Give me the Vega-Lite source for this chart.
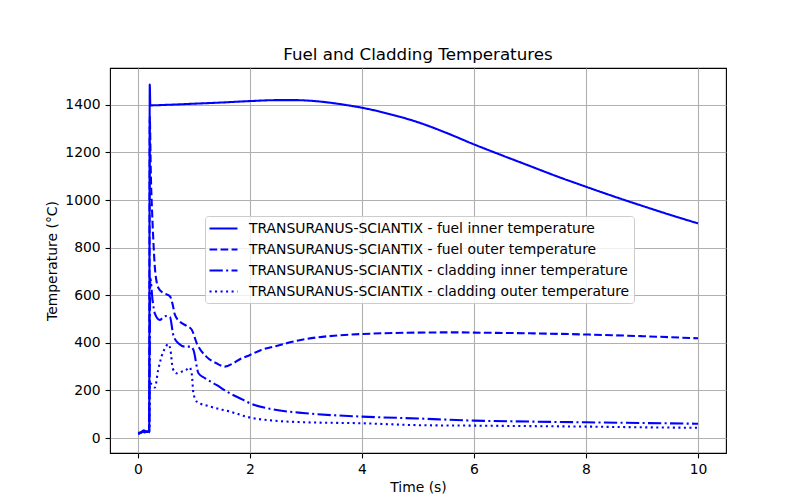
{
  "$schema": "https://vega.github.io/schema/vega-lite/v6.json",
  "width": 616,
  "height": 385,
  "autosize": {"type": "none"},
  "padding": {"left": 110, "top": 68, "right": 66, "bottom": 44},
  "background": "white",
  "config": {
    "font": "DejaVu Sans",
    "view": {"stroke": "black", "strokeWidth": 1.1},
    "axis": {
      "domain": false,
      "grid": true,
      "gridColor": "#b0b0b0",
      "gridWidth": 1.1,
      "tickColor": "black",
      "tickWidth": 1.1,
      "tickSize": 4.9,
      "labelPadding": 4.9,
      "labelFontSize": 13.9,
      "labelColor": "black",
      "labelFont": "DejaVu Sans",
      "titleFontSize": 13.9,
      "titleFontWeight": "normal",
      "titleColor": "black",
      "titleFont": "DejaVu Sans"
    }
  },
  "title": {
    "text": "Fuel and Cladding Temperatures",
    "fontSize": 16.7,
    "fontWeight": "normal",
    "color": "black",
    "font": "DejaVu Sans",
    "anchor": "middle",
    "offset": 4
  },
  "data": {
    "values": [
      {"t": 0, "T": 22, "series": "TRANSURANUS-SCIANTIX - fuel inner temperature"},
      {"t": 0.05, "T": 24, "series": "TRANSURANUS-SCIANTIX - fuel inner temperature"},
      {"t": 0.1, "T": 32, "series": "TRANSURANUS-SCIANTIX - fuel inner temperature"},
      {"t": 0.15, "T": 28, "series": "TRANSURANUS-SCIANTIX - fuel inner temperature"},
      {"t": 0.2, "T": 30, "series": "TRANSURANUS-SCIANTIX - fuel inner temperature"},
      {"t": 0.21, "T": 1485, "series": "TRANSURANUS-SCIANTIX - fuel inner temperature"},
      {"t": 0.22, "T": 1398, "series": "TRANSURANUS-SCIANTIX - fuel inner temperature"},
      {"t": 0.5, "T": 1400, "series": "TRANSURANUS-SCIANTIX - fuel inner temperature"},
      {"t": 1, "T": 1405, "series": "TRANSURANUS-SCIANTIX - fuel inner temperature"},
      {"t": 1.5, "T": 1410, "series": "TRANSURANUS-SCIANTIX - fuel inner temperature"},
      {"t": 2, "T": 1416, "series": "TRANSURANUS-SCIANTIX - fuel inner temperature"},
      {"t": 2.5, "T": 1420, "series": "TRANSURANUS-SCIANTIX - fuel inner temperature"},
      {"t": 2.8, "T": 1420, "series": "TRANSURANUS-SCIANTIX - fuel inner temperature"},
      {"t": 3.1, "T": 1417, "series": "TRANSURANUS-SCIANTIX - fuel inner temperature"},
      {"t": 3.4, "T": 1410, "series": "TRANSURANUS-SCIANTIX - fuel inner temperature"},
      {"t": 3.7, "T": 1400, "series": "TRANSURANUS-SCIANTIX - fuel inner temperature"},
      {"t": 4, "T": 1388, "series": "TRANSURANUS-SCIANTIX - fuel inner temperature"},
      {"t": 4.5, "T": 1361, "series": "TRANSURANUS-SCIANTIX - fuel inner temperature"},
      {"t": 5, "T": 1327, "series": "TRANSURANUS-SCIANTIX - fuel inner temperature"},
      {"t": 5.5, "T": 1283, "series": "TRANSURANUS-SCIANTIX - fuel inner temperature"},
      {"t": 6, "T": 1234, "series": "TRANSURANUS-SCIANTIX - fuel inner temperature"},
      {"t": 6.5, "T": 1188, "series": "TRANSURANUS-SCIANTIX - fuel inner temperature"},
      {"t": 7, "T": 1143, "series": "TRANSURANUS-SCIANTIX - fuel inner temperature"},
      {"t": 7.5, "T": 1098, "series": "TRANSURANUS-SCIANTIX - fuel inner temperature"},
      {"t": 8, "T": 1056, "series": "TRANSURANUS-SCIANTIX - fuel inner temperature"},
      {"t": 8.5, "T": 1015, "series": "TRANSURANUS-SCIANTIX - fuel inner temperature"},
      {"t": 9, "T": 976, "series": "TRANSURANUS-SCIANTIX - fuel inner temperature"},
      {"t": 9.5, "T": 938, "series": "TRANSURANUS-SCIANTIX - fuel inner temperature"},
      {"t": 10, "T": 902, "series": "TRANSURANUS-SCIANTIX - fuel inner temperature"},

      {"t": 0, "T": 20, "series": "TRANSURANUS-SCIANTIX - fuel outer temperature"},
      {"t": 0.05, "T": 22, "series": "TRANSURANUS-SCIANTIX - fuel outer temperature"},
      {"t": 0.1, "T": 28, "series": "TRANSURANUS-SCIANTIX - fuel outer temperature"},
      {"t": 0.15, "T": 26, "series": "TRANSURANUS-SCIANTIX - fuel outer temperature"},
      {"t": 0.2, "T": 28, "series": "TRANSURANUS-SCIANTIX - fuel outer temperature"},
      {"t": 0.21, "T": 1350, "series": "TRANSURANUS-SCIANTIX - fuel outer temperature"},
      {"t": 0.23, "T": 1100, "series": "TRANSURANUS-SCIANTIX - fuel outer temperature"},
      {"t": 0.25, "T": 960, "series": "TRANSURANUS-SCIANTIX - fuel outer temperature"},
      {"t": 0.27, "T": 850, "series": "TRANSURANUS-SCIANTIX - fuel outer temperature"},
      {"t": 0.3, "T": 720, "series": "TRANSURANUS-SCIANTIX - fuel outer temperature"},
      {"t": 0.33, "T": 660, "series": "TRANSURANUS-SCIANTIX - fuel outer temperature"},
      {"t": 0.37, "T": 628, "series": "TRANSURANUS-SCIANTIX - fuel outer temperature"},
      {"t": 0.45, "T": 610, "series": "TRANSURANUS-SCIANTIX - fuel outer temperature"},
      {"t": 0.57, "T": 596, "series": "TRANSURANUS-SCIANTIX - fuel outer temperature"},
      {"t": 0.62, "T": 560, "series": "TRANSURANUS-SCIANTIX - fuel outer temperature"},
      {"t": 0.66, "T": 517, "series": "TRANSURANUS-SCIANTIX - fuel outer temperature"},
      {"t": 0.75, "T": 489, "series": "TRANSURANUS-SCIANTIX - fuel outer temperature"},
      {"t": 0.87, "T": 471, "series": "TRANSURANUS-SCIANTIX - fuel outer temperature"},
      {"t": 0.96, "T": 455, "series": "TRANSURANUS-SCIANTIX - fuel outer temperature"},
      {"t": 1.05, "T": 398, "series": "TRANSURANUS-SCIANTIX - fuel outer temperature"},
      {"t": 1.22, "T": 342, "series": "TRANSURANUS-SCIANTIX - fuel outer temperature"},
      {"t": 1.4, "T": 314, "series": "TRANSURANUS-SCIANTIX - fuel outer temperature"},
      {"t": 1.55, "T": 300, "series": "TRANSURANUS-SCIANTIX - fuel outer temperature"},
      {"t": 1.7, "T": 314, "series": "TRANSURANUS-SCIANTIX - fuel outer temperature"},
      {"t": 1.82, "T": 331, "series": "TRANSURANUS-SCIANTIX - fuel outer temperature"},
      {"t": 2, "T": 349, "series": "TRANSURANUS-SCIANTIX - fuel outer temperature"},
      {"t": 2.2, "T": 370, "series": "TRANSURANUS-SCIANTIX - fuel outer temperature"},
      {"t": 2.42, "T": 384, "series": "TRANSURANUS-SCIANTIX - fuel outer temperature"},
      {"t": 3, "T": 416, "series": "TRANSURANUS-SCIANTIX - fuel outer temperature"},
      {"t": 3.5, "T": 430, "series": "TRANSURANUS-SCIANTIX - fuel outer temperature"},
      {"t": 4, "T": 437, "series": "TRANSURANUS-SCIANTIX - fuel outer temperature"},
      {"t": 5, "T": 443, "series": "TRANSURANUS-SCIANTIX - fuel outer temperature"},
      {"t": 5.7, "T": 444, "series": "TRANSURANUS-SCIANTIX - fuel outer temperature"},
      {"t": 6, "T": 443, "series": "TRANSURANUS-SCIANTIX - fuel outer temperature"},
      {"t": 7, "T": 440, "series": "TRANSURANUS-SCIANTIX - fuel outer temperature"},
      {"t": 8, "T": 435, "series": "TRANSURANUS-SCIANTIX - fuel outer temperature"},
      {"t": 9, "T": 428, "series": "TRANSURANUS-SCIANTIX - fuel outer temperature"},
      {"t": 10, "T": 419, "series": "TRANSURANUS-SCIANTIX - fuel outer temperature"},

      {"t": 0, "T": 20, "series": "TRANSURANUS-SCIANTIX - cladding inner temperature"},
      {"t": 0.05, "T": 22, "series": "TRANSURANUS-SCIANTIX - cladding inner temperature"},
      {"t": 0.1, "T": 27, "series": "TRANSURANUS-SCIANTIX - cladding inner temperature"},
      {"t": 0.15, "T": 25, "series": "TRANSURANUS-SCIANTIX - cladding inner temperature"},
      {"t": 0.2, "T": 27, "series": "TRANSURANUS-SCIANTIX - cladding inner temperature"},
      {"t": 0.22, "T": 671, "series": "TRANSURANUS-SCIANTIX - cladding inner temperature"},
      {"t": 0.26, "T": 580, "series": "TRANSURANUS-SCIANTIX - cladding inner temperature"},
      {"t": 0.3, "T": 524, "series": "TRANSURANUS-SCIANTIX - cladding inner temperature"},
      {"t": 0.39, "T": 496, "series": "TRANSURANUS-SCIANTIX - cladding inner temperature"},
      {"t": 0.45, "T": 508, "series": "TRANSURANUS-SCIANTIX - cladding inner temperature"},
      {"t": 0.51, "T": 513, "series": "TRANSURANUS-SCIANTIX - cladding inner temperature"},
      {"t": 0.57, "T": 509, "series": "TRANSURANUS-SCIANTIX - cladding inner temperature"},
      {"t": 0.63, "T": 433, "series": "TRANSURANUS-SCIANTIX - cladding inner temperature"},
      {"t": 0.72, "T": 398, "series": "TRANSURANUS-SCIANTIX - cladding inner temperature"},
      {"t": 0.84, "T": 384, "series": "TRANSURANUS-SCIANTIX - cladding inner temperature"},
      {"t": 0.94, "T": 384, "series": "TRANSURANUS-SCIANTIX - cladding inner temperature"},
      {"t": 0.99, "T": 370, "series": "TRANSURANUS-SCIANTIX - cladding inner temperature"},
      {"t": 1.08, "T": 272, "series": "TRANSURANUS-SCIANTIX - cladding inner temperature"},
      {"t": 1.2, "T": 251, "series": "TRANSURANUS-SCIANTIX - cladding inner temperature"},
      {"t": 1.4, "T": 223, "series": "TRANSURANUS-SCIANTIX - cladding inner temperature"},
      {"t": 1.64, "T": 188, "series": "TRANSURANUS-SCIANTIX - cladding inner temperature"},
      {"t": 1.88, "T": 160, "series": "TRANSURANUS-SCIANTIX - cladding inner temperature"},
      {"t": 2, "T": 146, "series": "TRANSURANUS-SCIANTIX - cladding inner temperature"},
      {"t": 2.42, "T": 120, "series": "TRANSURANUS-SCIANTIX - cladding inner temperature"},
      {"t": 3, "T": 104, "series": "TRANSURANUS-SCIANTIX - cladding inner temperature"},
      {"t": 4, "T": 90, "series": "TRANSURANUS-SCIANTIX - cladding inner temperature"},
      {"t": 5, "T": 82, "series": "TRANSURANUS-SCIANTIX - cladding inner temperature"},
      {"t": 6, "T": 73, "series": "TRANSURANUS-SCIANTIX - cladding inner temperature"},
      {"t": 7, "T": 69, "series": "TRANSURANUS-SCIANTIX - cladding inner temperature"},
      {"t": 8, "T": 66, "series": "TRANSURANUS-SCIANTIX - cladding inner temperature"},
      {"t": 9, "T": 63, "series": "TRANSURANUS-SCIANTIX - cladding inner temperature"},
      {"t": 10, "T": 60, "series": "TRANSURANUS-SCIANTIX - cladding inner temperature"},

      {"t": 0, "T": 18, "series": "TRANSURANUS-SCIANTIX - cladding outer temperature"},
      {"t": 0.05, "T": 20, "series": "TRANSURANUS-SCIANTIX - cladding outer temperature"},
      {"t": 0.1, "T": 24, "series": "TRANSURANUS-SCIANTIX - cladding outer temperature"},
      {"t": 0.15, "T": 22, "series": "TRANSURANUS-SCIANTIX - cladding outer temperature"},
      {"t": 0.2, "T": 24, "series": "TRANSURANUS-SCIANTIX - cladding outer temperature"},
      {"t": 0.21, "T": 230, "series": "TRANSURANUS-SCIANTIX - cladding outer temperature"},
      {"t": 0.25, "T": 225, "series": "TRANSURANUS-SCIANTIX - cladding outer temperature"},
      {"t": 0.3, "T": 212, "series": "TRANSURANUS-SCIANTIX - cladding outer temperature"},
      {"t": 0.36, "T": 286, "series": "TRANSURANUS-SCIANTIX - cladding outer temperature"},
      {"t": 0.42, "T": 342, "series": "TRANSURANUS-SCIANTIX - cladding outer temperature"},
      {"t": 0.48, "T": 377, "series": "TRANSURANUS-SCIANTIX - cladding outer temperature"},
      {"t": 0.54, "T": 394, "series": "TRANSURANUS-SCIANTIX - cladding outer temperature"},
      {"t": 0.58, "T": 370, "series": "TRANSURANUS-SCIANTIX - cladding outer temperature"},
      {"t": 0.62, "T": 293, "series": "TRANSURANUS-SCIANTIX - cladding outer temperature"},
      {"t": 0.69, "T": 272, "series": "TRANSURANUS-SCIANTIX - cladding outer temperature"},
      {"t": 0.78, "T": 279, "series": "TRANSURANUS-SCIANTIX - cladding outer temperature"},
      {"t": 0.86, "T": 286, "series": "TRANSURANUS-SCIANTIX - cladding outer temperature"},
      {"t": 0.92, "T": 297, "series": "TRANSURANUS-SCIANTIX - cladding outer temperature"},
      {"t": 0.96, "T": 269, "series": "TRANSURANUS-SCIANTIX - cladding outer temperature"},
      {"t": 0.99, "T": 188, "series": "TRANSURANUS-SCIANTIX - cladding outer temperature"},
      {"t": 1.05, "T": 153, "series": "TRANSURANUS-SCIANTIX - cladding outer temperature"},
      {"t": 1.29, "T": 132, "series": "TRANSURANUS-SCIANTIX - cladding outer temperature"},
      {"t": 1.64, "T": 111, "series": "TRANSURANUS-SCIANTIX - cladding outer temperature"},
      {"t": 2, "T": 86, "series": "TRANSURANUS-SCIANTIX - cladding outer temperature"},
      {"t": 2.42, "T": 73, "series": "TRANSURANUS-SCIANTIX - cladding outer temperature"},
      {"t": 3, "T": 66, "series": "TRANSURANUS-SCIANTIX - cladding outer temperature"},
      {"t": 4, "T": 62, "series": "TRANSURANUS-SCIANTIX - cladding outer temperature"},
      {"t": 5, "T": 54, "series": "TRANSURANUS-SCIANTIX - cladding outer temperature"},
      {"t": 6, "T": 52, "series": "TRANSURANUS-SCIANTIX - cladding outer temperature"},
      {"t": 7, "T": 50, "series": "TRANSURANUS-SCIANTIX - cladding outer temperature"},
      {"t": 8, "T": 48, "series": "TRANSURANUS-SCIANTIX - cladding outer temperature"},
      {"t": 9, "T": 45, "series": "TRANSURANUS-SCIANTIX - cladding outer temperature"},
      {"t": 10, "T": 43, "series": "TRANSURANUS-SCIANTIX - cladding outer temperature"}
    ]
  },
  "mark": {"type": "line", "color": "#0000ff", "strokeWidth": 2.08, "interpolate": "monotone"},
  "encoding": {
    "x": {
      "field": "t",
      "type": "quantitative",
      "scale": {"domain": [-0.5, 10.5], "nice": false, "zero": false},
      "axis": {"values": [0, 2, 4, 6, 8, 10], "title": "Time (s)", "titlePadding": 4}
    },
    "y": {
      "field": "T",
      "type": "quantitative",
      "scale": {"domain": [-63, 1555], "nice": false, "zero": false},
      "axis": {"values": [0, 200, 400, 600, 800, 1000, 1200, 1400], "format": "d", "title": "Temperature (°C)", "titlePadding": 5}
    },
    "strokeDash": {
      "field": "series",
      "type": "nominal",
      "scale": {
        "domain": [
          "TRANSURANUS-SCIANTIX - fuel inner temperature",
          "TRANSURANUS-SCIANTIX - fuel outer temperature",
          "TRANSURANUS-SCIANTIX - cladding inner temperature",
          "TRANSURANUS-SCIANTIX - cladding outer temperature"
        ],
        "range": [[1, 0], [7.7, 3.33], [13.3, 3.33, 2.08, 3.33], [2.08, 3.44]]
      },
      "legend": {
        "title": null,
        "orient": "none",
        "legendX": 95,
        "legendY": 148,
        "symbolType": "M-2,0H2",
        "symbolSize": 196,
        "symbolOffset": 6,
        "symbolStrokeWidth": 2.08,
        "symbolStrokeColor": "#0000ff",
        "symbolFillColor": "transparent",
        "labelFontSize": 13.9,
        "labelFont": "DejaVu Sans",
        "labelColor": "black",
        "labelOffset": 17,
        "labelLimit": 600,
        "padding": 4,
        "rowPadding": 5,
        "fillColor": "rgba(255,255,255,0.8)",
        "strokeColor": "#cccccc",
        "cornerRadius": 3
      }
    }
  }
}
